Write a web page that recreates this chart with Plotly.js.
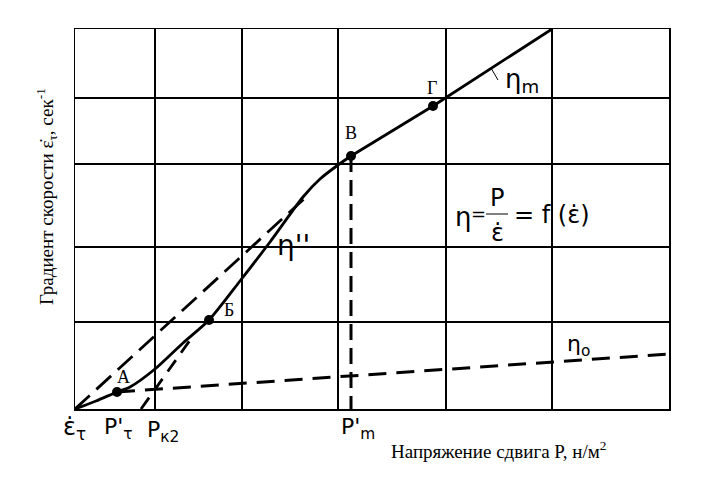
<!DOCTYPE html>
<html><head><meta charset="utf-8">
<script src="https://cdn.plot.ly/plotly-3.0.1.min.js"></script>
<style>body{margin:0;background:#fff}#c{width:702px;height:480px}</style>
</head><body><div id="c"></div>
<script>
// Coordinates: arbitrary units along P (x) and gradient (y)
const gridX = [80, 167, 263, 371, 477];
const gridY = [87, 162, 245, 311];
// main flow curve
const curveX = [0, 21, 42, 55, 80, 108, 134, 165, 195, 228, 245, 263, 276];
const curveY = [0, 8, 17, 22, 40, 66, 89, 128, 167, 212, 230, 244, 253];
// linear part (η_m)
const lineX = [276, 358, 477];
const lineY = [253, 303, 380];
// tangent from origin (η'')
const tanX = [0, 230];
const tanY = [0, 211];
// tangent at Б from P_k2
const kX = [66, 118];
const kY = [0, 73];
// η0 line
const etaX = [42, 594];
const etaY = [17, 55];
// vertical dashed at P'm
const vX = [276, 276];
const vY = [253, 0];
// named points
const ptNames = ['А', 'Б', 'В', 'Г'];
const ptX = [42, 134, 276, 358];
const ptY = [17, 89, 253, 303];

// plot area in pixels (for placing text labels)
const L = 75, R = 669, T = 29, B = 409;
const px = p => (p - L) / (R - L), py = p => (B - p) / (B - T);

const traces = [
  {x: curveX, y: curveY, mode: 'lines', line: {color: '#000', width: 2.8, shape: 'spline', smoothing: 0.7}},
  {x: lineX, y: lineY, mode: 'lines', line: {color: '#000', width: 2.8}},
  {x: tanX, y: tanY, mode: 'lines', line: {color: '#000', width: 2.8, dash: '20px,9px'}},
  {x: kX, y: kY, mode: 'lines', line: {color: '#000', width: 2.8, dash: '14px,9px'}},
  {x: etaX, y: etaY, mode: 'lines', line: {color: '#000', width: 3, dash: '18px,10px'}},
  {x: vX, y: vY, mode: 'lines', line: {color: '#000', width: 3, dash: '16px,8px'}},
  {x: ptX, y: ptY, mode: 'markers', marker: {color: '#000', size: 10}}
];

const serif = {family: 'Liberation Serif, serif', size: 18, color: '#000'};
const hand = (s) => ({family: 'DejaVu Sans, sans-serif', size: s, color: '#000'});
function ann(text, x, y, font, extra) {
  return Object.assign({x: px(x), y: py(y), xref: 'paper', yref: 'paper', xanchor: 'center', yanchor: 'middle',
    text: text, showarrow: false, font: font}, extra || {});
}
const letterPos = [[123, 377], [229, 310], [351, 133], [432, 88]];
const annotations = ptNames.map((n, i) => ann(n, letterPos[i][0], letterPos[i][1], serif));
annotations.push(
  ann("η''", 293, 245, hand(28)),
  ann('η<sub>m</sub>', 522, 80, hand(26)),
  ann('η<sub>o</sub>', 578, 345, hand(22)),
  ann('η', 463, 217, hand(26)),
  ann('=', 478, 214, hand(18)),
  ann('P', 497, 198, hand(24)),
  ann('ε̇', 497, 233, hand(24)),
  ann('= f (ε̇)', 512, 215, hand(24), {xanchor: 'left'}),
  ann('ε̇<sub>τ</sub>', 74, 428, hand(24)),
  ann("P'<sub>τ</sub>", 118, 428, hand(22)),
  ann('P<sub>к2</sub>', 163, 431, hand(22)),
  ann("P'<sub>m</sub>", 358, 428, hand(22)),
  ann('Напряжение сдвига P, н/м<sup>2</sup>', 498, 450, {family: 'Liberation Serif, serif', size: 19, color: '#000'}),
  ann('Градиент скорости ε̇<sub>τ</sub>, сек<sup>-1</sup>', 46, 197, {family: 'Liberation Serif, serif', size: 19, color: '#000'}, {textangle: -90})
);

const shapes = [
  {type: 'line', xref: 'paper', yref: 'paper', x0: px(486), x1: px(508), y0: py(214), y1: py(214), line: {color: '#000', width: 1}},
  {type: 'line', xref: 'paper', yref: 'paper', x0: px(491), x1: px(498), y0: py(68), y1: py(80), line: {color: '#000', width: 1}}
];

const axisCommon = {showgrid: true, gridcolor: '#000', gridwidth: 1.5, showticklabels: false, ticks: '', zeroline: false,
  showline: true, mirror: true, linecolor: '#000', linewidth: 1.5, tickmode: 'array', fixedrange: true};

const layout = {
  width: 702, height: 480,
  margin: {l: 75, r: 33, t: 29, b: 71},
  paper_bgcolor: '#fff', plot_bgcolor: '#fff',
  showlegend: false,
  xaxis: Object.assign({}, axisCommon, {range: [0, 594], tickvals: gridX}),
  yaxis: Object.assign({}, axisCommon, {range: [0, 380], tickvals: gridY}),
  annotations: annotations,
  shapes: shapes
};
Plotly.newPlot('c', traces, layout, {displayModeBar: false, staticPlot: true});
</script></body></html>
